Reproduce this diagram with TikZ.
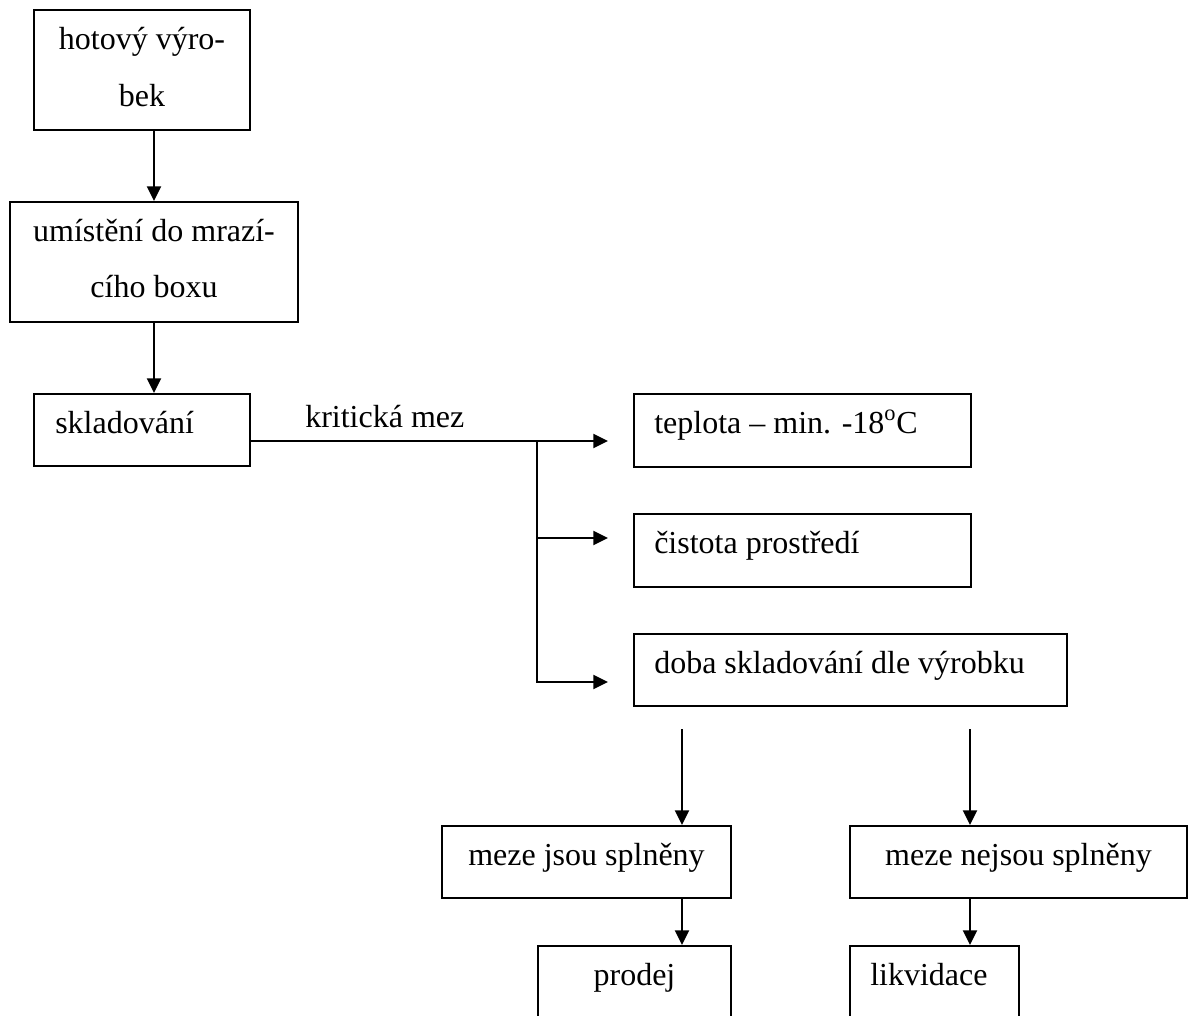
\documentclass[tikz,border=0pt]{standalone}
\usepackage{fontspec}
\setmainfont{Liberation Serif}
\usetikzlibrary{arrows.meta,calc}
\begin{document}
\begin{tikzpicture}[x=0.75pt,y=-0.75pt,
  box/.style 2 args={draw, line width=1.5pt, rectangle, inner sep=0pt,
    anchor=north west, minimum width=#1*0.75pt, minimum height=#2*0.75pt},
  lbl/.style={font=\fontsize{24}{28}\selectfont, inner sep=0pt},
  conn/.style={line width=1.5pt},
  arr/.style={conn, -{Triangle[length=11pt,width=10.5pt]}}]
\useasboundingbox (0,0) rectangle (1189,1016);
\clip (0,0) rectangle (1189,1016);

% process boxes
\node[box={216}{120}] (b1) at (33,9) {};
\node[box={288}{120}] (b2) at (9,201) {};
\node[box={216}{72}]  (b3) at (33,393) {};
\node[box={337}{73}]  (c1) at (633,393) {};
\node[box={337}{73}]  (c2) at (633,513) {};
\node[box={433}{72}]  (c3) at (633,633) {};
\node[box={289}{72}]  (m1) at (441,825) {};
\node[box={337}{72}]  (m2) at (849,825) {};
\node[box={193}{110}] (p)  at (537,945) {};
\node[box={169}{110}] (l)  at (849,945) {};

% box texts
\node[lbl, anchor=base] (b1a) at ($(b1.north)+(0,41)$) {hotový výro-};
\node[lbl, anchor=base] (b1b) at ($(b1.north)+(0,98)$) {bek};
\node[lbl, anchor=base] (b2a) at ($(b2.north)+(0,41)$) {umístění do mrazí-};
\node[lbl, anchor=base] (b2b) at ($(b2.north)+(0,97)$) {cího boxu};
\node[lbl, anchor=base west] (b3t) at ($(b3.north west)+(22,40)$) {skladování};
\node[lbl, anchor=base west] (c1t) at ($(c1.north west)+(21,40)$) {teplota – min. -18\textsuperscript{o}C};
\node[lbl, anchor=base west] (c2t) at ($(c2.north west)+(21,40)$) {čistota prostředí};
\node[lbl, anchor=base west] (c3t) at ($(c3.north west)+(21,40)$) {doba skladování dle výrobku};
\node[lbl, anchor=base] (m1t) at ($(m1.north)+(0,40)$) {meze jsou splněny};
\node[lbl, anchor=base] (m2t) at ($(m2.north)+(0,40)$) {meze nejsou splněny};
\node[lbl, anchor=base] (pt) at ($(p.north)+(0,40)$) {prodej};
\node[lbl, anchor=base west] (lt) at ($(l.north west)+(21,40)$) {likvidace};

% main flow
\draw[arr] (b2.north |- b1.south) -- (b2.north);
\draw[arr] (b2.south) -- (b2.south |- b3.north);

% critical limits branch
\coordinate (split) at (537,441);
\coordinate (e1) at (608,441);
\coordinate (e2) at (608,538);
\coordinate (e3) at (608,682);
\draw[arr] (b3.east |- split) -- (e1);
\node[lbl, anchor=base west] (km) at (305,427) {kritická mez};
\draw[arr] (split) |- (e3);
\draw[arr] (split |- e2) -- (e2);

% outcomes
\coordinate (s1) at (682,729);
\coordinate (s2) at (970,729);
\draw[arr] (s1) -- (s1 |- m1.north);
\draw[arr] (s2) -- (s2 |- m2.north);
\draw[arr] (s1 |- m1.south) -- (s1 |- p.north);
\draw[arr] (s2 |- m2.south) -- (s2 |- l.north);
\end{tikzpicture}
\end{document}
